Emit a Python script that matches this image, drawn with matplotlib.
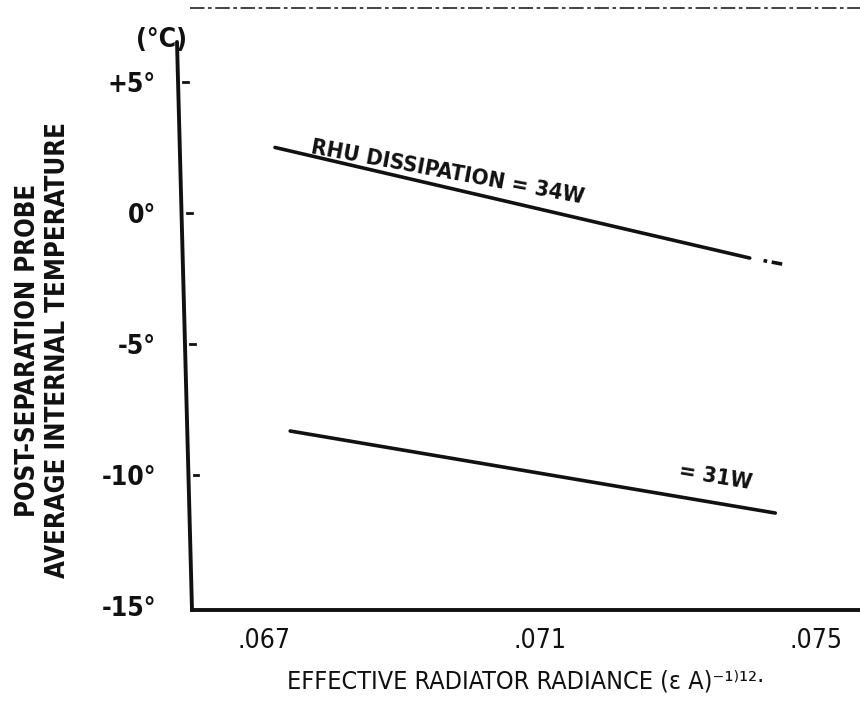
"""Post-separation probe temperature against effective radiator radiance."""

import matplotlib

matplotlib.use("Agg")
import matplotlib.pyplot as plt
import matplotlib.transforms as mtransforms
from matplotlib.lines import Line2D

# RHU dissipation = 34 W (solid run, then the broken tail at the far end)
radiance_34w = [0.06716, 0.07404]
temp_34w = [2.5, -1.72]
radiance_34w_tail = [0.07404, 0.07451]
temp_34w_tail = [-1.72, -1.95]

# RHU dissipation = 31 W
radiance_31w = [0.06738, 0.07441]
temp_31w = [-8.32, -11.45]

x_ticks = [0.067, 0.071, 0.075]
x_ticklabels = [".067", ".071", ".075"]
y_ticks = [5, 0, -5, -10, -15]
y_ticklabels = ["+5°", "0°", "-5°", "-10°", "-15°"]

INK = "#111111"

plt.rcParams["font.family"] = ["DejaVu Sans"]
plt.rcParams["font.stretch"] = "condensed"

W, H = 860, 710
fig = plt.figure(figsize=(W / 100, H / 100), dpi=100)

# axes box in pixels: left 192, right 860, top 40, bottom 610
left, right, top, bottom = 192, 860, 40, 610
ax = fig.add_axes([left / W, (H - bottom) / H, (right - left) / W, (bottom - top) / H])
ax.set_xlim(0.065957, 0.075638)
ax.set_ylim(-15.15, 6.6)

# curves
ax.plot(radiance_34w, temp_34w, color=INK, lw=2.6, solid_capstyle="round")
ax.plot(radiance_34w_tail, temp_34w_tail, color=INK, lw=2.6,
        linestyle=(6.9, (1.0, 1.3, 4.6, 3.9)))
ax.plot(radiance_31w, temp_31w, color=INK, lw=2.6, solid_capstyle="round")

ax.text(0.06767, 2.29, "RHU DISSIPATION = 34W", rotation=-10.5,
        rotation_mode="anchor", ha="left", va="baseline",
        fontsize=16, fontweight="bold", color=INK)
ax.text(0.07405, -10.55, "= 31W", rotation=-9.5,
        rotation_mode="anchor", ha="right", va="baseline",
        fontsize=16, fontweight="bold", color=INK)

# frame: bottom spine only, the vertical axis is drawn as a slightly leaning line
for side in ("top", "right", "left"):
    ax.spines[side].set_visible(False)
ax.spines["bottom"].set_linewidth(2.8)
ax.spines["bottom"].set_color(INK)

x_top = (177 - left) / (right - left)
ax.plot([x_top, 0], [0.9965, 0], transform=ax.transAxes, color=INK, lw=2.8,
        clip_on=False, solid_capstyle="round")

# short tick dashes just right of the leaning axis
blend = mtransforms.blended_transform_factory(ax.transAxes, ax.transData)
ymin, ymax = ax.get_ylim()
for yv in y_ticks[:-1]:
    frac = (yv - ymin) / (ymax - ymin)
    xa = x_top * frac
    ax.plot([xa + 0.008, xa + 0.015], [yv, yv], transform=blend, color=INK,
            lw=2.0, clip_on=False)

ax.set_yticks(y_ticks, y_ticklabels)
ax.set_xticks(x_ticks, x_ticklabels)
ax.tick_params(axis="y", length=0, pad=26, labelsize=19, colors=INK)
ax.tick_params(axis="x", length=0, pad=13, labelsize=19, colors=INK)
for lab in ax.get_yticklabels():
    lab.set_fontweight("bold")

ax.set_xlabel("EFFECTIVE RADIATOR RADIANCE (ε A)⁻¹⁾¹²·", fontsize=18,
              labelpad=11, color=INK)

fig.text(43 / W, 1 - 350 / H, "POST-SEPARATION PROBE\nAVERAGE INTERNAL TEMPERATURE",
         rotation=90, ha="center", va="center", multialignment="center",
         linespacing=1.2, fontsize=18.5, fontweight="bold", color=INK)
fig.text(161 / W, 1 - 40 / H, "(°C)", ha="center", va="center",
         fontsize=19, fontweight="bold", color=INK)

# broken rule along the top edge of the sheet
fig.add_artist(Line2D([190 / W, 1.0], [1 - 8 / H, 1 - 8 / H], transform=fig.transFigure,
                      color="#333333", lw=1.3, linestyle=(0, (8, 2, 2, 2))))

fig.savefig("out.png", dpi=100)
